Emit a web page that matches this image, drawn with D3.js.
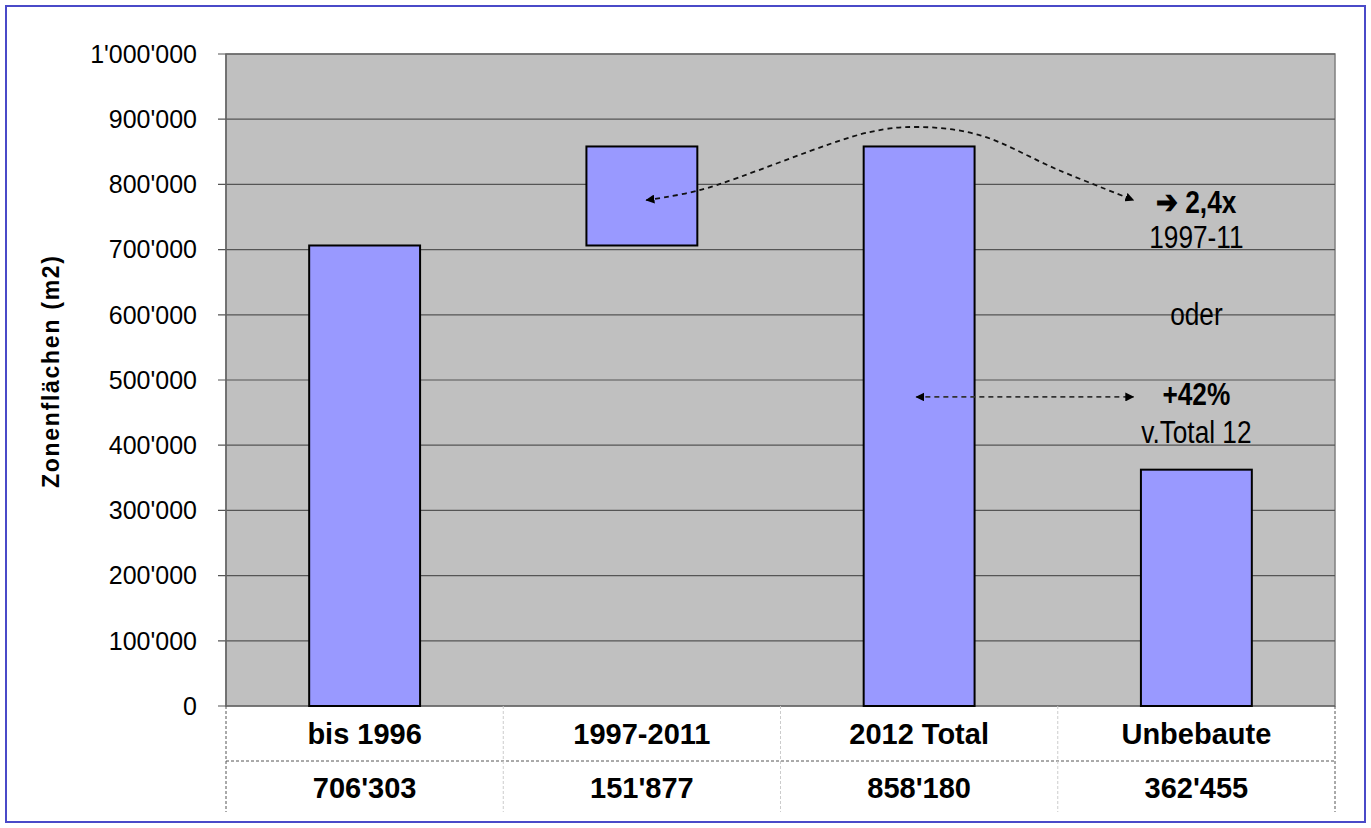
<!DOCTYPE html>
<html>
<head>
    <meta charset="utf-8">
    <title>Zonenflächen</title>
    <script src="https://d3js.org/d3.v7.min.js"></script>
    <style>
        body { margin: 0; background: #fff; }
        text { font-family: "Liberation Sans", Arial, sans-serif; }
    </style>
</head>
<body>
    <svg width="1371" height="828"></svg>
    <script>
        // Daten
        const categories = ["bis 1996", "1997-2011", "2012 Total", "Unbebaute"];
        const barBase = [0, 706303, 0, 0];
        const barValue = [706303, 151877, 858180, 362455];
        const tableValues = ["706'303", "151'877", "858'180", "362'455"];
        const yTicks = [0, 100000, 200000, 300000, 400000, 500000, 600000, 700000, 800000, 900000, 1000000];
        const yTickLabels = ["0", "100'000", "200'000", "300'000", "400'000", "500'000", "600'000", "700'000", "800'000", "900'000", "1'000'000"];

        // Pfeile (Position in Kategorien-Einheiten, Wert)
        const curvePoints = [[1.516, 776000], [1.707, 791000], [2.319, 880000], [2.499, 888000], [2.715, 876000], [3.003, 822000], [3.273, 776000]];
        const straightArrow = [[2.49, 474000], [3.273, 474000]];

        // Kommentare rechts
        const noteTexts = ["\u2794 2,4x", "1997-11", "oder", "+42%", "v.Total 12"];
        const noteValues = [756000, 702000, 584000, 462000, 403000];
        const noteBold = [true, false, false, true, false];

        const svg = d3.select("svg"),
              width = +svg.attr("width"),
              height = +svg.attr("height"),
              margin = {top: 54, right: 36, bottom: 122, left: 226};

        const plotW = width - margin.left - margin.right,
              plotH = height - margin.top - margin.bottom;

        const x = d3.scaleBand().domain(categories)
                    .range([margin.left, margin.left + plotW]).paddingInner(0.6).paddingOuter(0.3);
        const xi = d3.scaleLinear().domain([0, 4]).range([margin.left, margin.left + plotW]);
        const y = d3.scaleLinear().domain([0, 1000000]).range([margin.top + plotH, margin.top]);

        // Rahmen
        svg.append("rect")
           .attr("x", 6).attr("y", 6).attr("width", width - 12).attr("height", height - 12)
           .attr("fill", "#fff").attr("stroke", "#4a4ac8").attr("stroke-width", 2);

        // Zeichenfläche
        svg.append("rect")
           .attr("x", margin.left).attr("y", margin.top).attr("width", plotW).attr("height", plotH)
           .attr("fill", "#c0c0c0").attr("stroke", "#808080").attr("stroke-width", 1.5);

        // Gitterlinien
        svg.append("g").selectAll("line").data(yTicks).enter().append("line")
           .attr("x1", margin.left - 8).attr("x2", margin.left + plotW)
           .attr("y1", d => y(d)).attr("y2", d => y(d))
           .attr("stroke", "#555").attr("stroke-width", 1.2);

        // Achsenlinie
        svg.append("line")
           .attr("x1", margin.left).attr("x2", margin.left)
           .attr("y1", y(1000000)).attr("y2", y(0))
           .attr("stroke", "#666").attr("stroke-width", 1.5);

        // Y-Beschriftung
        svg.append("g").selectAll("text").data(yTicks).enter().append("text")
           .attr("x", margin.left - 29).attr("y", d => y(d))
           .attr("dy", "0.35em").attr("text-anchor", "end")
           .style("font-size", "25px").attr("fill", "#000")
           .text((d, i) => yTickLabels[i]);

        svg.append("text")
           .attr("transform", `translate(59,${y(500000) - 8}) rotate(-90)`)
           .attr("text-anchor", "middle")
           .attr("textLength", 232).attr("lengthAdjust", "spacing")
           .style("font-size", "23px").style("font-weight", "bold")
           .text("Zonenflächen (m2)");

        // Balken
        svg.append("g").selectAll("rect").data(categories).enter().append("rect")
           .attr("x", d => x(d))
           .attr("width", x.bandwidth())
           .attr("y", (d, i) => y(barBase[i] + barValue[i]))
           .attr("height", (d, i) => y(barBase[i]) - y(barBase[i] + barValue[i]))
           .attr("fill", "#9999ff").attr("stroke", "#000").attr("stroke-width", 2);

        // Tabelle unter dem Diagramm
        const rowTop = y(0), rowMid = rowTop + 55, rowBot = rowTop + 106;
        const tbl = svg.append("g")
           .attr("stroke", "#555").attr("stroke-width", 1).attr("stroke-dasharray", "3,2");
        tbl.append("line").attr("x1", margin.left).attr("x2", margin.left + plotW)
           .attr("y1", rowMid).attr("y2", rowMid);
        tbl.selectAll(".vsep").data(d3.range(5)).enter().append("line")
           .attr("class", "vsep")
           .attr("x1", d => xi(d)).attr("x2", d => xi(d))
           .attr("y1", rowTop).attr("y2", rowBot)
           .attr("stroke", d => (d === 0 || d === 4) ? "#555" : "#ccc");

        svg.append("g").selectAll("text").data(categories).enter().append("text")
           .attr("x", d => x(d) + x.bandwidth() / 2).attr("y", rowTop + 28)
           .attr("dy", "0.36em").attr("text-anchor", "middle")
           .style("font-size", "29px").style("font-weight", "bold")
           .text(d => d);

        svg.append("g").selectAll("text").data(tableValues).enter().append("text")
           .attr("x", (d, i) => x(categories[i]) + x.bandwidth() / 2).attr("y", rowMid + 27)
           .attr("dy", "0.36em").attr("text-anchor", "middle")
           .style("font-size", "29px").style("font-weight", "bold")
           .text(d => d);

        // Pfeilspitzen
        const defs = svg.append("defs");
        defs.append("marker").attr("id", "arr").attr("viewBox", "0 0 10 10")
            .attr("refX", 9).attr("refY", 5).attr("markerWidth", 5).attr("markerHeight", 5)
            .attr("orient", "auto-start-reverse").attr("markerUnits", "strokeWidth")
            .append("path").attr("d", "M0,0 L10,5 L0,10 z").attr("fill", "#000");

        const line = d3.line().x(d => xi(d[0])).y(d => y(d[1])).curve(d3.curveCatmullRom);
        svg.append("path").datum(curvePoints).attr("d", line)
           .attr("fill", "none").attr("stroke", "#111").attr("stroke-width", 1.8)
           .attr("stroke-dasharray", "5,4")
           .attr("marker-start", "url(#arr)").attr("marker-end", "url(#arr)");

        svg.append("path").datum(straightArrow).attr("d", d3.line().x(d => xi(d[0])).y(d => y(d[1])))
           .attr("fill", "none").attr("stroke", "#333").attr("stroke-width", 1.8)
           .attr("stroke-dasharray", "5,4")
           .attr("marker-start", "url(#arr)").attr("marker-end", "url(#arr)");

        // Kommentare (schmal gesetzt wie Arial Narrow)
        svg.append("g").selectAll("text").data(noteTexts).enter().append("text")
           .attr("transform", (d, i) => `translate(${xi(3.5)},${y(noteValues[i])}) scale(0.82,1)`)
           .attr("text-anchor", "middle")
           .style("font-size", "32px")
           .style("font-weight", (d, i) => noteBold[i] ? "bold" : "normal")
           .text(d => d);
    </script>
</body>
</html>
